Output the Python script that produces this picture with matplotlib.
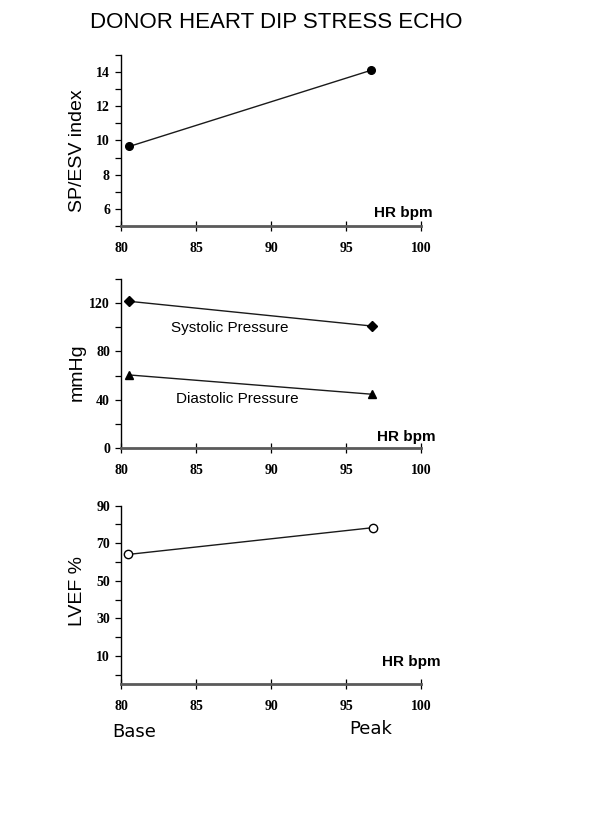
import matplotlib
matplotlib.use("Agg")
import matplotlib.pyplot as plt
from matplotlib.ticker import MultipleLocator

# HR bpm at base and peak
hr = [80.55, 96.65]
hr_bp = [80.55, 96.75]
hr_ef = [80.45, 96.8]

sp_esv = [9.65, 14.1]
systolic = [121.5, 101]
diastolic = [60.5, 44.5]
lvef = [64, 78.3]

title = "DONOR HEART DIP STRESS ECHO"
xticks = [80, 85, 90, 95, 100]

tick_font = dict(family=["Liberation Serif", "DejaVu Serif"], weight="bold", size=10)

fig = plt.figure(figsize=(6, 8.22), dpi=100)

def style_ticklabels(ax):
    for lab in ax.get_xticklabels() + ax.get_yticklabels():
        lab.set_fontfamily(tick_font["family"])
        lab.set_fontweight(tick_font["weight"])
        lab.set_fontsize(tick_font["size"])

def make_axes(rect, ylim, major, minor, ylabel, label_y, hr_y, hr_x):
    ax = fig.add_axes(rect)
    ax.set_xlim(80, 100)
    ax.set_ylim(*ylim)
    ax.set_xticks(xticks)
    ax.yaxis.set_major_locator(MultipleLocator(major))
    ax.yaxis.set_minor_locator(MultipleLocator(minor))
    ax.spines["top"].set_visible(False)
    ax.spines["right"].set_visible(False)
    ax.spines["left"].set_linewidth(1.0)
    ax.spines["bottom"].set_linewidth(2.0)
    ax.spines["bottom"].set_color("#5a5a5a")
    ax.tick_params(axis="y", which="both", direction="out", length=4, width=0.9, pad=4)
    ax.tick_params(axis="x", which="both", direction="inout", length=7, width=0.9, pad=8)
    style_ticklabels(ax)
    ax.set_ylabel(ylabel, fontsize=14, family=["Liberation Sans", "DejaVu Sans"])
    ax.yaxis.set_label_coords(-0.117, label_y)
    ax.text(hr_x, hr_y, "HR bpm", transform=ax.transAxes, ha="right", va="center",
            fontsize=11, fontweight="bold", family=["Liberation Sans", "DejaVu Sans"])
    return ax

# panel 1: SP/ESV
ax1 = make_axes([0.2017, 0.7251, 0.5, 0.208], (5, 15), 2, 1, "SP/ESV index", 0.44, 0.076, 1.04)
ax1.set_yticks([6, 8, 10, 12, 14])
ax1.set_yticks([5, 7, 9, 11, 13, 15], minor=True)
style_ticklabels(ax1)
ax1.plot(hr, sp_esv, color="#1a1a1a", lw=1.0, marker="o", ms=5.5, mfc="black", mec="black")

# panel 2: pressures
ax2 = make_axes([0.2017, 0.455, 0.5, 0.2056], (0, 140), 40, 20, "mmHg", 0.45, 0.065, 1.05)
ax2.plot(hr_bp, systolic, color="#1a1a1a", lw=1.0, marker="D", ms=5, mfc="black", mec="black")
ax2.plot(hr_bp, diastolic, color="#1a1a1a", lw=1.0, marker="^", ms=6, mfc="black", mec="black")
ax2.text(0.363, 0.71, "Systolic Pressure", transform=ax2.transAxes, ha="center", va="center",
         fontsize=11, family=["Liberation Sans", "DejaVu Sans"])
ax2.text(0.387, 0.29, "Diastolic Pressure", transform=ax2.transAxes, ha="center", va="center",
         fontsize=11, family=["Liberation Sans", "DejaVu Sans"])

# panel 3: LVEF
ax3 = make_axes([0.2017, 0.1679, 0.5, 0.2169], (-5, 90), 20, 10, "LVEF %", 0.52, 0.124, 1.065)
ax3.set_yticks([10, 30, 50, 70, 90])
ax3.set_yticks([0, 20, 40, 60, 80], minor=True)
style_ticklabels(ax3)
ax3.plot(hr_ef, lvef, color="#1a1a1a", lw=1.0, marker="o", ms=6, mfc="white", mec="black", mew=1.0)

fig.text(0.46, 0.973, title, ha="center", va="center", fontsize=16,
         family=["Liberation Sans", "DejaVu Sans"])
fig.text(0.223, 0.110, "Base", ha="center", va="center", fontsize=13, family="DejaVu Sans")
fig.text(0.618, 0.113, "Peak", ha="center", va="center", fontsize=13, family="DejaVu Sans")

fig.savefig("out.png", dpi=100, facecolor="white")
